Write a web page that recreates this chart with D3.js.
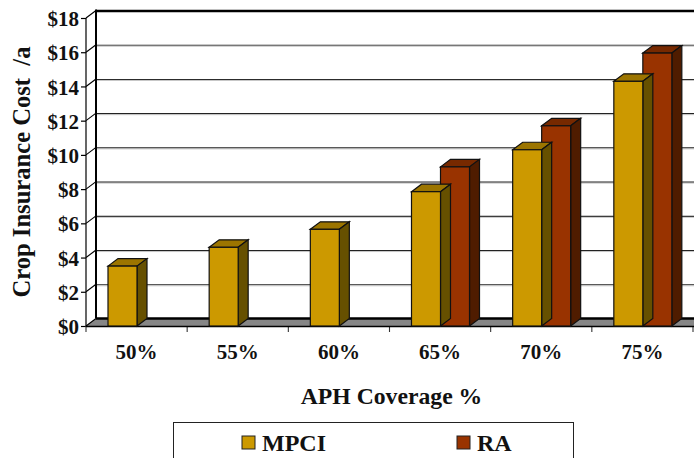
<!DOCTYPE html>
<html><head><meta charset="utf-8"><script src="https://cdn.jsdelivr.net/npm/d3@7"></script>
<style>html,body{margin:0;padding:0;background:#fff;overflow:hidden}svg{display:block}text{font-family:"Liberation Serif",serif;font-weight:bold;fill:#111}</style></head>
<body><svg id="c" width="694" height="458"></svg>
<script>
const categories = ["50%","55%","60%","65%","70%","75%"];
const seriesNames = ["MPCI","RA"];
const mpciValues = [3.5,4.6,5.65,7.85,10.3,14.3];
const raValues = [null,null,null,9.3,11.7,15.95];
const yTicks = [0,2,4,6,8,10,12,14,16,18];
const colors = {MPCI:["#cc9900","#9c7500","#665000"],RA:["#993300","#772900","#4f1c00"]};

const svg = d3.select("#c");
const dx = 10, dy = 7.5;
const x = d3.scaleBand().domain(categories).range([86,693]);
const y = d3.scaleLinear().domain([0,18]).range([326,18]);
const s = d3.scaleBand().domain(seriesNames).range([22,80]);
const line = (x1,y1,x2,y2,w,c)=>svg.append("line").attr("x1",x1).attr("y1",y1).attr("x2",x2).attr("y2",y2).attr("stroke",c||"#000").attr("stroke-width",w);

// floor
svg.append("polygon").attr("fill","#868686")
  .attr("points",[[86,y(0)],[86+dx,y(0)-dy],[694,y(0)-dy],[694,y(0)]].join(" "));
// grid lines
yTicks.filter(t=>t>0).forEach(t=>{
  line(86+dx,y(t)-dy+0.5,694,y(t)-dy+0.5,t===18?2.4:1.1,t===18?"#000":"#222");
  if(t!==18) line(86+dx,y(t)-dy+1.5,694,y(t)-dy+1.5,1,"#c4c4c4");
});
line(86+dx,y(0)-dy,694,y(0)-dy,2.4);
// walls
line(96,y(18)-dy-1,96,y(0)-dy,2);
line(86,y(18),86,y(0),1.2);
yTicks.forEach(t=>line(86,y(t),86+dx,y(t)-dy,1.1));
// axes
const yAxis = d3.axisLeft(y).tickValues(yTicks).tickFormat(d=>"$"+d).tickSize(5).tickPadding(2);
const gy = svg.append("g").attr("transform","translate(86,0)").call(yAxis);
gy.select(".domain").remove();
gy.selectAll("line").attr("stroke","#000").attr("stroke-width",1.2);
gy.selectAll("text").attr("font-size",21).attr("dy","0.36em").attr("fill","#111");
const xAxis = d3.axisBottom(x).tickSize(0).tickPadding(18);
const gx = svg.append("g").attr("transform",`translate(0,${y(0)})`).call(xAxis);
gx.select(".domain").remove();
gx.selectAll("text").attr("font-size",21).attr("fill","#111");
categories.concat("").forEach((c,i)=>{
  const px = i<categories.length ? x(c) : x.range()[1];
  line(px,y(0),px,y(0)+6,1.1,"#333");
});
line(86,y(0)+0.5,694,y(0)+0.5,1.4);

// bars
const bars = [];
categories.forEach((c,i)=>{
  bars.push({c,k:"MPCI",v:mpciValues[i]});
  if(raValues[i]!=null) bars.push({c,k:"RA",v:raValues[i]});
});
const g = svg.append("g").attr("stroke","#111").attr("stroke-width",1.2).attr("stroke-linejoin","miter");
const bw = s.bandwidth();
bars.slice().sort((a,b)=>d3.ascending(categories.indexOf(a.c),categories.indexOf(b.c))||d3.descending(a.k,b.k)).forEach(b=>{
  const l = x(b.c)+s(b.k), r = l+bw, t = y(b.v), bt = y(0);
  g.append("polygon").attr("fill",colors[b.k][1]).attr("points",[[l,t],[l+dx,t-dy],[r+dx,t-dy],[r,t]].join(" "));
  g.append("polygon").attr("fill",colors[b.k][2]).attr("points",[[r,t],[r+dx,t-dy],[r+dx,bt-dy],[r,bt]].join(" "));
  g.append("rect").attr("x",l).attr("y",t).attr("width",bw).attr("height",bt-t).attr("fill",colors[b.k][0]);
});

// titles
svg.append("text").attr("x",391.5).attr("y",404).attr("text-anchor","middle").attr("font-size",23.7).text("APH Coverage %");
svg.append("text").attr("transform","translate(30,172) rotate(-90)").attr("text-anchor","middle").attr("font-size",24.6).attr("xml:space","preserve").style("white-space","pre").text("Crop Insurance Cost  /a");

// legend
svg.append("rect").attr("x",173.5).attr("y",422.5).attr("width",400).attr("height",50).attr("fill","#fff").attr("stroke","#222").attr("stroke-width",1);
const legendX = d3.scaleOrdinal().domain(seriesNames).range([242,457]);
seriesNames.forEach(k=>{
  const lx = legendX(k);
  svg.append("rect").attr("x",lx).attr("y",436).attr("width",13).attr("height",13).attr("fill",colors[k][0]).attr("stroke","#222").attr("stroke-width",1);
  svg.append("text").attr("x",lx+20).attr("y",451).attr("font-size",24).text(k);
});
</script></body></html>
